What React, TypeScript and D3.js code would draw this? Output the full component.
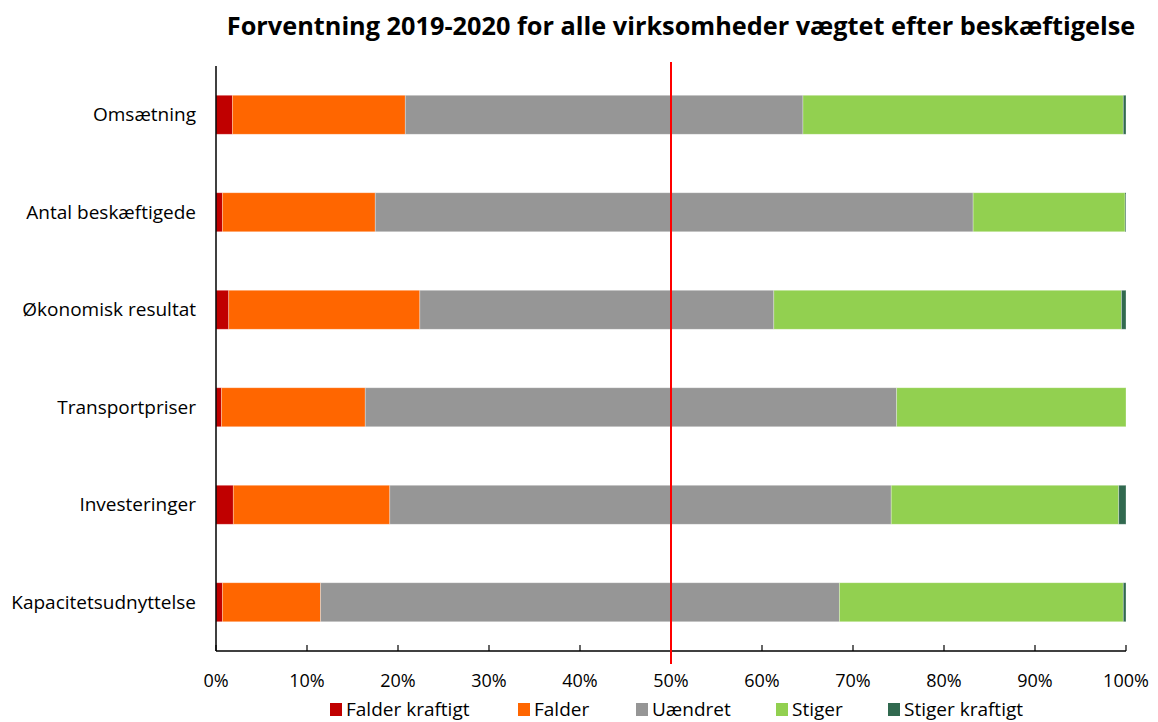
import React from 'react';
import * as d3 from 'd3';

// Data (percent of employment)
const categories = [
  'Omsætning',
  'Antal beskæftigede',
  'Økonomisk resultat',
  'Transportpriser',
  'Investeringer',
  'Kapacitetsudnyttelse',
];
const seriesNames = ['Falder kraftigt', 'Falder', 'Uændret', 'Stiger', 'Stiger kraftigt'];
const falderKraftigt = [1.8, 0.7, 1.4, 0.6, 1.9, 0.7];
const falder = [19.0, 16.8, 21.0, 15.8, 17.2, 10.8];
const uaendret = [43.7, 65.7, 38.9, 58.4, 55.1, 57.0];
const stiger = [35.2, 16.7, 38.2, 25.2, 25.0, 31.2];
const stigerKraftigt = [0.3, 0.1, 0.5, 0.0, 0.8, 0.3];
const xTicks = [0, 10, 20, 30, 40, 50, 60, 70, 80, 90, 100];
const colors = ['#c00000', '#ff6600', '#969696', '#92d050', '#31694f'];

const W = 1158;
const H = 722;
const margin = { top: 66, right: 32, bottom: 71, left: 216 };
const font = '"Open Sans", sans-serif';

const App = () => {
  const innerW = W - margin.left - margin.right;
  const innerH = H - margin.top - margin.bottom;

  const rows = categories.map((c, i) => ({
    cat: c,
    v0: falderKraftigt[i],
    v1: falder[i],
    v2: uaendret[i],
    v3: stiger[i],
    v4: stigerKraftigt[i],
  }));
  const stack = d3.stack<any>().keys(['v0', 'v1', 'v2', 'v3', 'v4']);
  const layers = stack(rows);

  const x = d3.scaleLinear().domain([0, 100]).range([0, innerW]);
  const y = d3.scaleBand().domain(categories).range([0, innerH]).paddingInner(0.6).paddingOuter(0.3);

  // legend layout
  const legendX = [330, 518, 636, 776, 888];

  return (
    <svg width={W} height={H} style={{ position: 'absolute', left: 0, top: 0, background: '#fff' }}>
      <text x={681} y={35} textAnchor="middle" fontFamily={font} fontWeight="bold" fontSize={25.3} fill="#000">
        Forventning 2019-2020 for alle virksomheder vægtet efter beskæftigelse
      </text>
      <g transform={`translate(${margin.left},${margin.top})`}>
        {layers.map((layer, li) => (
          <g key={li} fill={colors[li]}>
            {layer.map((d, i) => (
              <rect
                key={i}
                x={x(d[0])}
                y={y(categories[i])}
                width={Math.max(0, x(d[1]) - x(d[0]))}
                height={y.bandwidth()}
                stroke="#ffffff"
                strokeOpacity={0.4}
                strokeWidth={0.75}
              />
            ))}
          </g>
        ))}
        {/* category labels */}
        {categories.map((c) => (
          <text
            key={c}
            x={-20}
            y={(y(c) as number) + y.bandwidth() / 2}
            dy="0.35em"
            textAnchor="end"
            fontFamily={font}
            fontSize={19}
            fill="#000"
          >
            {c}
          </text>
        ))}
        {/* x axis */}
        <line x1={0} x2={innerW} y1={innerH} y2={innerH} stroke="#000" strokeWidth={1.5} />
        {xTicks.map((t) => (
          <g key={t} transform={`translate(${x(t)},${innerH})`}>
            <line y1={0} y2={-6} stroke="#000" strokeWidth={1.2} />
            <text y={36} textAnchor="middle" fontFamily={font} fontSize={18} fill="#000">
              {t}%
            </text>
          </g>
        ))}
        {/* y axis */}
        <line x1={0} x2={0} y1={0} y2={innerH} stroke="#000" strokeWidth={1.5} />
        {/* 50% reference line */}
        <line x1={x(50)} x2={x(50)} y1={-4} y2={innerH + 13} stroke="#ff0000" strokeWidth={2} />
      </g>
      {/* legend */}
      {seriesNames.map((s, i) => (
        <g key={s} transform={`translate(${legendX[i]},709)`}>
          <rect x={0} y={-6} width={12} height={13} fill={colors[i]} />
          <text x={16} y={0} dy="0.36em" fontFamily={font} fontSize={19} fill="#000">
            {s}
          </text>
        </g>
      ))}
    </svg>
  );
};

export default App;
